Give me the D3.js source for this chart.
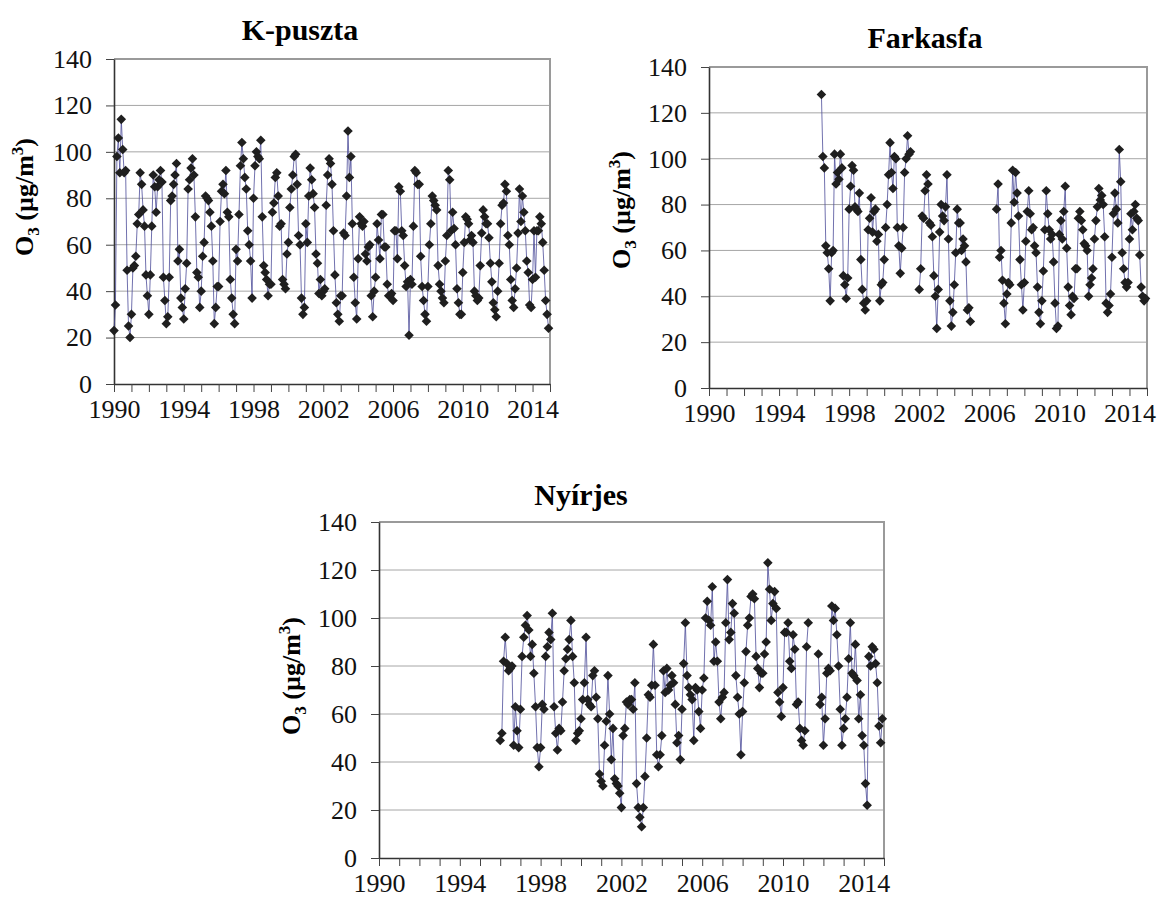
<!DOCTYPE html>
<html>
<head>
<meta charset="utf-8">
<script src="https://cdn.jsdelivr.net/npm/d3@7"></script>
<style>
  body { margin: 0; background: #fff; }
</style>
</head>
<body>
<script>
// monthly O3 means, Jan 1990 - Dec 2014 (one row per year)
const kpusztaValues = [
  23, 34, 98, 106, 91, 114, 101, 91, 92, 49, 25, 20,
  30, 50, 51, 55, 69, 73, 91, 86, 75, 68, 47, 38,
  30, 47, 68, 90, 85, 74, 85, 88, 92, 87, 46, 36,
  26, 29, 46, 79, 81, 86, 90, 95, 53, 58, 37, 33,
  28, 41, 52, 84, 88, 93, 97, 90, 72, 48, 46, 33,
  40, 55, 61, 81, 80, 79, 74, 68, 53, 26, 33, 42,
  42, 70, 83, 86, 82, 92, 74, 72, 45, 37, 30, 26,
  58, 53, 73, 94, 104, 97, 89, 84, 66, 60, 53, 37,
  80, 94, 100, 98, 97, 105, 72, 51, 48, 45, 38, 43,
  43, 74, 78, 89, 91, 81, 68, 69, 45, 43, 41, 56,
  61, 76, 84, 90, 98, 99, 86, 64, 60, 37, 30, 33,
  69, 61, 81, 93, 88, 82, 76, 56, 52, 39, 45, 38,
  40, 41, 77, 90, 97, 95, 86, 66, 47, 35, 30, 27,
  38, 38, 65, 64, 81, 109, 89, 98, 69, 46, 35, 28,
  54, 72, 69, 68, 70, 56, 53, 59, 60, 38, 29, 40,
  46, 69, 62, 54, 73, 73, 59, 59, 43, 38, 38, 39,
  36, 66, 66, 54, 85, 83, 66, 64, 51, 42, 44, 21,
  45, 43, 68, 92, 91, 86, 86, 55, 42, 36, 30, 27,
  42, 60, 69, 81, 79, 77, 75, 51, 43, 40, 37, 35,
  53, 64, 92, 88, 66, 74, 67, 60, 41, 35, 30, 30,
  48, 61, 72, 71, 69, 62, 64, 61, 40, 38, 36, 37,
  51, 65, 75, 72, 69, 69, 63, 52, 44, 35, 32, 29,
  40, 52, 69, 77, 78, 86, 83, 64, 60, 45, 36, 33,
  41, 50, 65, 84, 70, 81, 74, 66, 53, 48, 34, 33,
  45, 66, 46, 66, 66, 72, 69, 61, 49, 36, 30, 24
];

// Jan 1996 - Dec 2014, null = no measurement
const farkasfaValues = [
  null, null, null, null, null, 128, 101, 96, 62, 59, 52, 38,
  59, 60, 102, 89, 94, 91, 102, 96, 49, 45, 39, 48,
  78, 88, 97, 95, 79, 78, 77, 85, 56, 43, 37, 34,
  38, 69, 74, 83, 68, 77, 78, 64, 67, 38, 45, 46,
  56, 70, 80, 93, 107, 94, 87, 101, 100, 70, 62, 50,
  61, 70, 94, 100, 110, 102, 103, null, null, null, null, null,
  43, 52, 75, 74, 86, 93, 89, 72, 71, 66, 49, 40,
  26, 43, 68, 80, 75, 73, 79, 93, 65, 38, 27, 33,
  45, 59, 78, 72, 72, 60, 65, 62, 55, 34, 35, 29,
  null, null, null, null, null, null, null, null, null, null, null, null,
  null, null, null, null, null, 78, 89, 57, 60, 47, 37, 28,
  41, 46, 45, 72, 95, 81, 94, 85, 75, 56, 45, 34,
  46, 64, 77, 86, 76, 69, 70, 62, 59, 44, 33, 28,
  38, 51, 69, 86, 76, 69, 65, 67, 55, 37, 26, 27,
  67, 73, 65, 77, 88, 61, 44, 36, 32, 40, 39, 52,
  52, 74, 77, 73, 69, 63, 62, 60, 40, 45, 48, 52,
  65, 73, 79, 87, 82, 84, 80, 66, 37, 33, 36, 41,
  57, 76, 85, 78, 72, 104, 90, 59, 52, 46, 44, 46,
  65, 76, 69, 77, 80, 74, 73, 58, 44, 40, 38, 39
];

// Jan 1996 - Dec 2014
const nyirjesValues = [
  49, 52, 82, 92, 81, 78, 79, 80, 47, 63, 53, 46,
  62, 84, 92, 97, 101, 95, 84, 89, 77, 63, 46, 38,
  46, 64, 62, 84, 88, 94, 91, 102, 63, 52, 45, 54,
  53, 65, 78, 83, 87, 91, 99, 84, 73, 49, 52, 53,
  58, 66, 73, 92, 66, 64, 63, 76, 78, 67, 58, 35,
  32, 30, 47, 57, 76, 60, 41, 54, 33, 31, 30, 27,
  21, 51, 54, 65, 64, 66, 66, 62, 73, 31, 21, 17,
  13, 21, 34, 50, 68, 67, 72, 89, 72, 43, 38, 43,
  51, 78, 69, 79, 70, 72, 76, 73, 64, 48, 51, 41,
  62, 81, 98, 76, 71, 68, 66, 49, 71, 70, 61, 54,
  70, 75, 100, 107, 99, 97, 113, 82, 90, 82, 65, 58,
  67, 69, 98, 116, 91, 94, 106, 102, 76, 67, 60, 43,
  61, 73, 86, 97, 100, 109, 110, 108, 84, 79, 71, 77,
  77, 85, 90, 123, 112, 99, 106, 111, 104, 69, 65, 59,
  71, 94, 94, 98, 82, 79, 93, 87, 64, 65, 54, 49,
  47, 53, 88, 98, null, null, null, null, null, 85, 64, 67,
  47, 58, 77, 79, 78, 105, 99, 104, 93, 80, 62, 47,
  54, 58, 67, 83, 98, 77, 76, 89, 74, 58, 68, 51,
  47, 31, 22, 84, 80, 88, 87, 81, 73, 55, 48, 58
];

const yTicks = [0, 20, 40, 60, 80, 100, 120, 140];
const yearTicks = d3.range(1990, 2016);
const labelYears = [1990, 1994, 1998, 2002, 2006, 2010, 2014];

const serif = "Liberation Serif, Times New Roman, serif";

const panels = [
  { title: "K-puszta", values: kpusztaValues, start: 1990,
    left: 114, right: 550, top: 59, bottom: 384, titleX: 300, titleY: 40, labelX: 33, labelY: 197 },
  { title: "Farkasfa", values: farkasfaValues, start: 1996,
    left: 709, right: 1147, top: 67, bottom: 388, titleX: 925, titleY: 48, labelX: 630, labelY: 210 },
  { title: "Nyírjes", values: nyirjesValues, start: 1996,
    left: 379, right: 884, top: 522, bottom: 858, titleX: 581, titleY: 505, labelX: 300, labelY: 676 }
];

const svg = d3.select("body").append("svg")
  .attr("width", 1162)
  .attr("height", 901)
  .attr("font-family", serif);

panels.forEach(function (p) {
  const x = d3.scaleLinear().domain([1990, 2015]).range([p.left, p.right]);
  const y = d3.scaleLinear().domain([0, 140]).range([p.bottom, p.top]);
  const g = svg.append("g");

  const pts = p.values.map(function (v, i) {
    return { t: p.start + i / 12, v: v };
  });

  // gridlines
  g.selectAll(".grid")
    .data(yTicks.filter(d => d > 0 && d < 140))
    .enter().append("line")
    .attr("x1", p.left).attr("x2", p.right)
    .attr("y1", d => y(d)).attr("y2", d => y(d))
    .attr("stroke", "#a6a6a6").attr("stroke-width", 1);

  // top and right border
  g.append("path")
    .attr("d", `M${p.left},${y(140)}H${p.right}V${p.bottom}`)
    .attr("fill", "none")
    .attr("stroke", "#9a9a9a")
    .attr("stroke-width", 2);

  const xAxis = d3.axisBottom(x)
    .tickValues(yearTicks)
    .tickFormat(d => labelYears.includes(d) ? d : "")
    .tickSize(8)
    .tickSizeOuter(0)
    .tickPadding(8);

  const yAxis = d3.axisLeft(y)
    .tickValues(yTicks)
    .tickSize(8)
    .tickSizeOuter(0)
    .tickPadding(14);

  const ax = g.append("g")
    .attr("transform", `translate(0,${p.bottom})`)
    .call(xAxis);
  const ay = g.append("g")
    .attr("transform", `translate(${p.left},0)`)
    .call(yAxis);

  [ax, ay].forEach(function (a) {
    a.attr("font-family", serif).attr("font-size", 26);
    a.select(".domain").attr("stroke", "#333").attr("stroke-width", 1.6);
    a.selectAll(".tick line").attr("stroke", "#444").attr("stroke-width", 1);
    a.selectAll(".tick text").attr("fill", "#111");
  });

  // series line
  const line = d3.line()
    .defined(d => d.v != null)
    .x(d => x(d.t))
    .y(d => y(d.v));

  g.append("path")
    .datum(pts)
    .attr("d", line)
    .attr("fill", "none")
    .attr("stroke", "#4d4d99")
    .attr("stroke-width", 0.8);

  // diamond markers
  g.selectAll(".mark")
    .data(pts.filter(d => d.v != null))
    .enter().append("path")
    .attr("d", d3.symbol(d3.symbolSquare, 46))
    .attr("transform", d => `translate(${x(d.t)},${y(d.v)}) rotate(45)`)
    .attr("fill", "#1f1f1f");

  // title
  svg.append("text")
    .attr("x", p.titleX)
    .attr("y", p.titleY)
    .attr("text-anchor", "middle")
    .attr("font-size", 30)
    .attr("font-weight", "bold")
    .text(p.title);

  // y label
  const lab = svg.append("text")
    .attr("transform", `translate(${p.labelX},${p.labelY}) rotate(-90)`)
    .attr("text-anchor", "middle")
    .attr("font-size", 26)
    .attr("font-weight", "bold");
  lab.append("tspan").text("O");
  lab.append("tspan").attr("dy", 6).attr("font-size", 17).text("3");
  lab.append("tspan").attr("dy", -6).text(" (µg/m");
  lab.append("tspan").attr("dy", -10).attr("font-size", 17).text("3");
  lab.append("tspan").attr("dy", 10).text(")");
});
</script>
</body>
</html>
